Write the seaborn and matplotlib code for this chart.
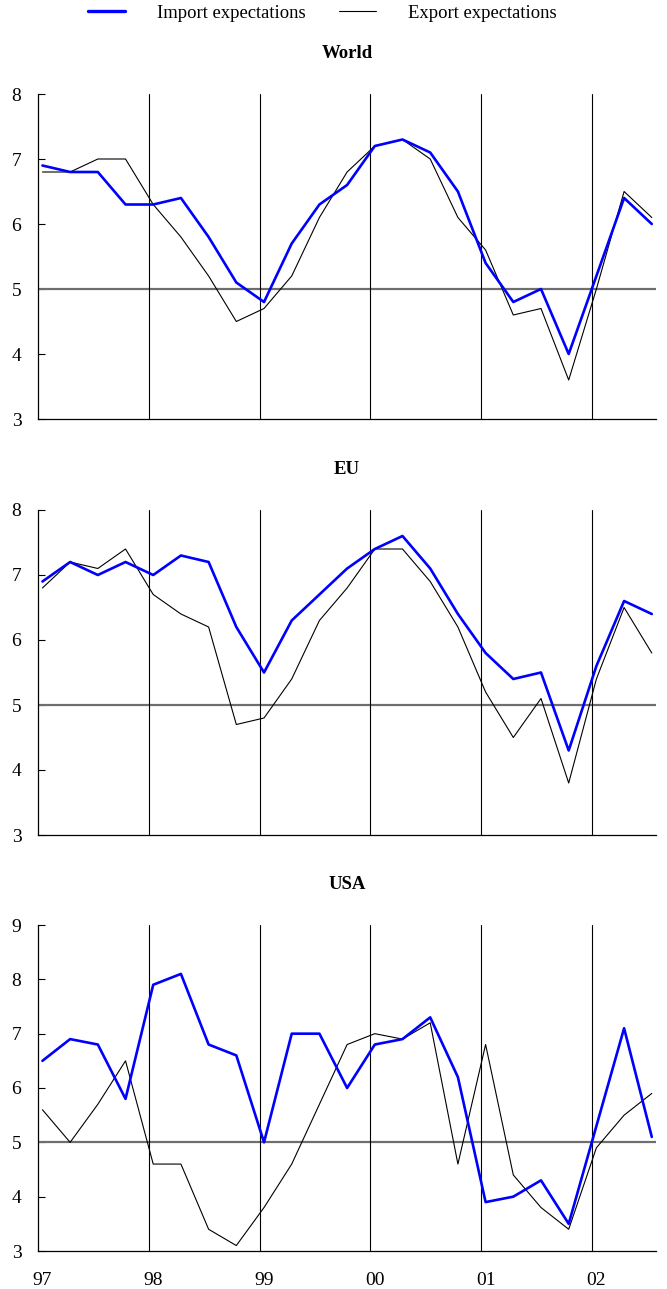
import numpy as np
import pandas as pd
import matplotlib
matplotlib.use("Agg")
import matplotlib.pyplot as plt
import seaborn as sns

# ── Data (quarterly, 1997Q1 – 2002Q3) ─────────────────────────────────────────
quarters = 1997 + np.arange(23) * 0.25 + 0.04

world_import = [6.9, 6.8, 6.8, 6.3, 6.3, 6.4, 5.8, 5.1, 4.8, 5.7, 6.3, 6.6,
                7.2, 7.3, 7.1, 6.5, 5.4, 4.8, 5.0, 4.0, 5.2, 6.4, 6.0]
world_export = [6.8, 6.8, 7.0, 7.0, 6.3, 5.8, 5.2, 4.5, 4.7, 5.2, 6.1, 6.8,
                7.2, 7.3, 7.0, 6.1, 5.6, 4.6, 4.7, 3.6, 5.0, 6.5, 6.1]

eu_import = [6.9, 7.2, 7.0, 7.2, 7.0, 7.3, 7.2, 6.2, 5.5, 6.3, 6.7, 7.1,
             7.4, 7.6, 7.1, 6.4, 5.8, 5.4, 5.5, 4.3, 5.6, 6.6, 6.4]
eu_export = [6.8, 7.2, 7.1, 7.4, 6.7, 6.4, 6.2, 4.7, 4.8, 5.4, 6.3, 6.8,
             7.4, 7.4, 6.9, 6.2, 5.2, 4.5, 5.1, 3.8, 5.4, 6.5, 5.8]

usa_import = [6.5, 6.9, 6.8, 5.8, 7.9, 8.1, 6.8, 6.6, 5.0, 7.0, 7.0, 6.0,
              6.8, 6.9, 7.3, 6.2, 3.9, 4.0, 4.3, 3.5, 5.3, 7.1, 5.1]
usa_export = [5.6, 5.0, 5.7, 6.5, 4.6, 4.6, 3.4, 3.1, 3.8, 4.6, 5.7, 6.8,
              7.0, 6.9, 7.2, 4.6, 6.8, 4.4, 3.8, 3.4, 4.9, 5.5, 5.9]

regions = ["World", "EU", "USA"]
y_ranges = [(3, 8), (3, 8), (3, 9)]
year_ticks = [1997, 1998, 1999, 2000, 2001, 2002]
year_labels = ["97", "98", "99", "00", "01", "02"]

series = {
    "World": (world_import, world_export),
    "EU": (eu_import, eu_export),
    "USA": (usa_import, usa_export),
}

# ── Style ─────────────────────────────────────────────────────────────────────
sns.set_style("white")
plt.rcParams["font.family"] = ["Liberation Serif", "DejaVu Serif"]
plt.rcParams["text.color"] = "black"
plt.rcParams["xtick.color"] = "black"
plt.rcParams["ytick.color"] = "black"
plt.rcParams["axes.labelcolor"] = "black"

fig = plt.figure(figsize=(6.67, 12.89), dpi=100)

# axes rectangles in pixels: left, top, right, bottom
rects = [(38, 94, 656, 419), (38, 510, 656, 835), (38, 925, 656, 1251)]
W, H = 667, 1289

for k, name in enumerate(regions):
    l, t, r, b = rects[k]
    ax = fig.add_axes([l / W, 1 - b / H, (r - l) / W, (b - t) / H])
    imp, exp = series[name]
    df = pd.DataFrame({"t": quarters, "imp": imp, "exp": exp})

    ax.axhline(5, color="#6e6e6e", lw=1.6, zorder=1)
    for yr in year_ticks[1:]:
        ax.axvline(yr, color="black", lw=0.8, zorder=1)

    sns.lineplot(data=df, x="t", y="exp", ax=ax, color="black", lw=0.8,
                 zorder=3)
    sns.lineplot(data=df, x="t", y="imp", ax=ax, color="#0000ff", lw=1.9,
                 zorder=4)

    ax.set_xlim(1997, 2002.578)
    ax.set_ylim(*y_ranges[k])
    ax.set_yticks(range(y_ranges[k][0], y_ranges[k][1] + 1))
    ax.tick_params(axis="y", direction="in", length=5, width=0.8,
                   labelsize=14, pad=12, left=True)
    ax.set_xticks([y + 0.04 for y in year_ticks])
    if k == 2:
        ax.set_xticklabels(year_labels)
        ax.tick_params(axis="x", length=0, labelsize=14, pad=15)
    else:
        ax.set_xticklabels([])
        ax.tick_params(axis="x", length=0)
    ax.set_xlabel("")
    ax.set_ylabel("")
    for side in ["top", "right"]:
        ax.spines[side].set_visible(False)
    for side in ["left", "bottom"]:
        ax.spines[side].set_color("black")
        ax.spines[side].set_linewidth(0.9)
    ax.set_title(name, fontweight="bold", fontsize=13.5, pad=26)

# ── Legend on top ─────────────────────────────────────────────────────────────
handles = [plt.Line2D([], [], color="#0000ff", lw=2.4),
           plt.Line2D([], [], color="black", lw=0.8)]
fig.legend(handles, ["Import expectations", "Export expectations"],
           loc="center", bbox_to_anchor=(322 / W, 1 - 13 / H), ncol=2,
           frameon=False, fontsize=13.4, handlelength=2.0, handletextpad=1.7,
           columnspacing=1.8)

fig.savefig("out.png", dpi=100)
